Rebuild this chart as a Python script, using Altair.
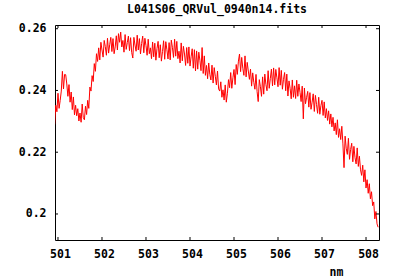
import altair as alt
import pandas as pd

TITLE = "L041S06_QRVul_0940n14.fits"
X_TITLE = "nm"

# wavelength grid of the spectrum (nm): first sample and sampling step
wl_start = 500.925
wl_step = 0.025

# flux values, 10 samples (0.25 nm) per row
flux = [
    0.2290, 0.2352, 0.2331, 0.2391, 0.2342, 0.2368, 0.2398, 0.2462, 0.2405, 0.2452,
    0.2451, 0.2421, 0.2381, 0.2419, 0.2362, 0.2395, 0.2338, 0.2379, 0.2321, 0.2352,
    0.2318, 0.2341, 0.2301, 0.2327, 0.2297, 0.2356, 0.2312, 0.2305, 0.2349, 0.2322,
    0.2368, 0.2342, 0.2411, 0.2398, 0.2448, 0.2429, 0.2487, 0.2462, 0.2519, 0.2494,
    0.2538, 0.2499, 0.2556, 0.2531, 0.2508, 0.2562, 0.2542, 0.2514, 0.2569, 0.2521,
    0.2548, 0.2572, 0.2526, 0.2568, 0.2519, 0.2541, 0.2577, 0.2531, 0.2584, 0.2556,
    0.2589, 0.2541, 0.2562, 0.2524, 0.2581, 0.2533, 0.2555, 0.2576, 0.2529, 0.2571,
    0.2523, 0.2505, 0.2572, 0.2547, 0.2527, 0.2579, 0.2531, 0.2568, 0.2518, 0.2552,
    0.2576, 0.2522, 0.2569, 0.2545, 0.2514, 0.2566, 0.2519, 0.2538, 0.2503, 0.2557,
    0.2509, 0.2553, 0.2498, 0.2536, 0.2559, 0.2506, 0.2548, 0.2495, 0.2526, 0.2561,
    0.2501, 0.2558, 0.2532, 0.2502, 0.2555, 0.2499, 0.2563, 0.2540, 0.2507, 0.2566,
    0.2511, 0.2559, 0.2503, 0.2527, 0.2489, 0.2554, 0.2496, 0.2543, 0.2518, 0.2481,
    0.2539, 0.2488, 0.2541, 0.2479, 0.2509, 0.2535, 0.2472, 0.2532, 0.2463, 0.2528,
    0.2469, 0.2524, 0.2498, 0.2464, 0.2539, 0.2455, 0.2512, 0.2449, 0.2481, 0.2438,
    0.2489, 0.2452, 0.2434, 0.2482, 0.2424, 0.2474, 0.2446, 0.2418, 0.2463, 0.2405,
    0.2398, 0.2428, 0.2378, 0.2402, 0.2369, 0.2418, 0.2362, 0.2391, 0.2435, 0.2409,
    0.2458, 0.2407, 0.2441, 0.2468, 0.2419, 0.2484, 0.2452, 0.2495, 0.2518, 0.2461,
    0.2507, 0.2472, 0.2449, 0.2512, 0.2444, 0.2491, 0.2463, 0.2436, 0.2469, 0.2414,
    0.2457, 0.2426, 0.2404, 0.2452, 0.2396, 0.2364, 0.2435, 0.2412, 0.2381, 0.2444,
    0.2388, 0.2453, 0.2419, 0.2399, 0.2464, 0.2407, 0.2438, 0.2469, 0.2415, 0.2473,
    0.2418, 0.2468, 0.2441, 0.2412, 0.2474, 0.2417, 0.2465, 0.2404, 0.2436, 0.2458,
    0.2399, 0.2453, 0.2382, 0.2431, 0.2407, 0.2373, 0.2434, 0.2378, 0.2415, 0.2374,
    0.2433, 0.2381, 0.2421, 0.2394, 0.2364, 0.2414, 0.2308, 0.2408, 0.2357, 0.2378,
    0.2397, 0.2346, 0.2393, 0.2339, 0.2362, 0.2389, 0.2332, 0.2384, 0.2355, 0.2326,
    0.2378, 0.2323, 0.2351, 0.2368, 0.2319, 0.2363, 0.2311, 0.2341, 0.2303, 0.2334,
    0.2291, 0.2324, 0.2282, 0.2313, 0.2269, 0.2295, 0.2257, 0.2305, 0.2248, 0.2276,
    0.2241, 0.2284, 0.2227, 0.2150, 0.2252, 0.2213, 0.2193, 0.2245, 0.2177, 0.2209,
    0.2229, 0.2169, 0.2219, 0.2182, 0.2162, 0.2214, 0.2154, 0.2187, 0.2143, 0.2125,
    0.2158, 0.2104, 0.2143, 0.2084, 0.2111, 0.2067, 0.2098, 0.2049, 0.2072, 0.2027,
    0.2039, 0.1984, 0.2008, 0.1968, 0.1957,
]

x_ticks = [501, 502, 503, 504, 505, 506, 507, 508]
y_ticks = [0.2, 0.22, 0.24, 0.26]
x_domain = [500.932, 508.295]
y_domain = [0.19157, 0.2612]

wl = [round(wl_start + i * wl_step, 3) for i in range(len(flux))]
df = pd.DataFrame({"wl": wl, "flux": flux})
xt = pd.DataFrame({"wl": x_ticks})
yt = pd.DataFrame({"flux": y_ticks})

W, H = 324, 215
FONT = "DejaVu Sans Mono"
TL = 3  # tick length (inward)

xs = alt.Scale(domain=x_domain, nice=False, zero=False)
ys = alt.Scale(domain=y_domain, nice=False, zero=False)
x_axis = alt.Axis(values=x_ticks, format="d", title=X_TITLE,
                  labelPadding=8, labelOffset=2,
                  titleX=281, titleY=35, titleAlign="center",
                  titleBaseline="alphabetic")
y_axis = alt.Axis(values=y_ticks, format="~g", title="", labelPadding=9)

X = alt.X("wl:Q", scale=xs, axis=x_axis)
Y = alt.Y("flux:Q", scale=ys, axis=y_axis)

line = alt.Chart(df).mark_line(color="#ff0000", strokeWidth=1, clip=True).encode(x=X, y=Y)

tick_bottom = alt.Chart(xt).mark_rule(color="black", strokeWidth=1).encode(
    x=X, y=alt.value(H), y2=alt.value(H - TL))
tick_top = alt.Chart(xt).mark_rule(color="black", strokeWidth=1).encode(
    x=X, y=alt.value(0), y2=alt.value(TL))
tick_left = alt.Chart(yt).mark_rule(color="black", strokeWidth=1).encode(
    y=Y, x=alt.value(0), x2=alt.value(TL))
tick_right = alt.Chart(yt).mark_rule(color="black", strokeWidth=1).encode(
    y=Y, x=alt.value(W), x2=alt.value(W - TL))

chart = alt.layer(line, tick_bottom, tick_top, tick_left, tick_right).properties(
    width=W, height=H,
    title=alt.TitleParams(TITLE, font=FONT, fontSize=11.5, fontWeight="bold",
                          color="black", anchor="middle", frame="group", offset=7),
    autosize=alt.AutoSizeParams(type="none"),
    padding={"left": 55, "top": 25, "right": 21, "bottom": 40},
    background="white",
).configure_view(
    stroke="black", strokeWidth=1
).configure_axis(
    grid=False, domain=False, ticks=False,
    labelFont=FONT, labelFontSize=11.5, labelFontWeight="bold", labelColor="black",
    titleFont=FONT, titleFontSize=11.5, titleFontWeight="bold", titleColor="black",
)

chart.save("out.html", embed_options={"renderer": "svg", "actions": False})
